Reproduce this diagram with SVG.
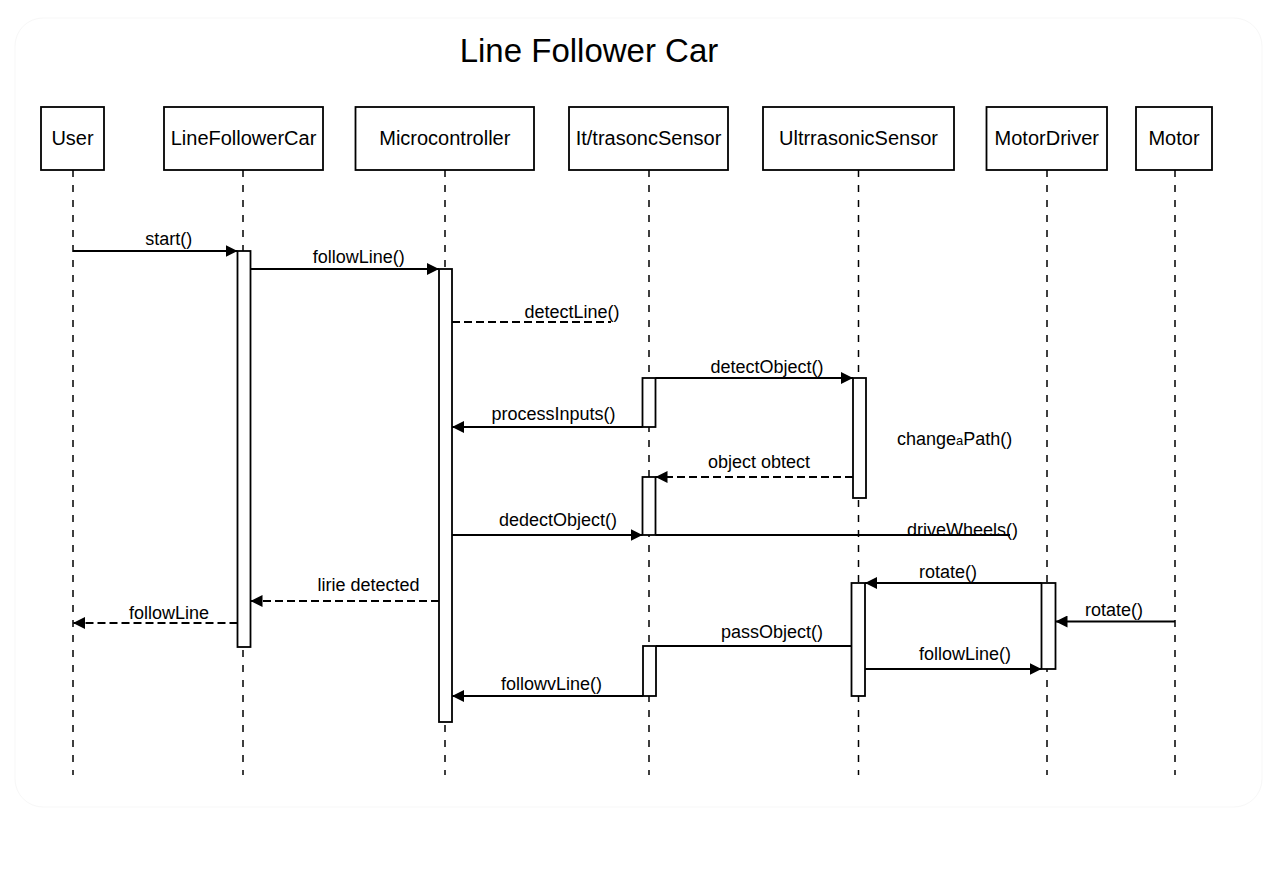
<svg xmlns="http://www.w3.org/2000/svg" width="1276" height="884" viewBox="0 0 1276 884">
<style>
text{font-family:"Liberation Sans",Arial,sans-serif;fill:#000}
.title{font-size:33px}
.hd{font-size:20px;text-anchor:middle}
.lb{font-size:18px;text-anchor:middle}
.box{fill:#fff;stroke:#000;stroke-width:1.8}
.life{stroke:#000;stroke-width:1.5;stroke-dasharray:7 8;fill:none}
.act{fill:#fff;stroke:#000;stroke-width:1.8}
.msg{stroke:#000;stroke-width:1.8;fill:none}
.dash{stroke-dasharray:8 4}
.arr{marker-end:url(#ah)}
</style>
<defs>
<marker id="ah" viewBox="0 0 12 12" refX="12" refY="6" markerWidth="12" markerHeight="12" markerUnits="userSpaceOnUse" orient="auto">
<path d="M0,0 L12,6 L0,12 Z" fill="#000"/>
</marker>
</defs>
<rect width="1276" height="884" fill="#fff"/>
<rect x="15" y="18" width="1247" height="789" rx="28" fill="none" stroke="#f7f7f7" stroke-width="1"/>
<text class="title" x="589" y="62" text-anchor="middle">Line Follower Car</text>

<g id="lifelines">
<line class="life" x1="73" y1="170" x2="73" y2="775"/>
<line class="life" x1="243" y1="170" x2="243" y2="775"/>
<line class="life" x1="445" y1="170" x2="445" y2="775"/>
<line class="life" x1="649" y1="170" x2="649" y2="775"/>
<line class="life" x1="858.5" y1="170" x2="858.5" y2="775"/>
<line class="life" x1="1047" y1="170" x2="1047" y2="775"/>
<line class="life" x1="1175" y1="170" x2="1175" y2="775"/>
</g>

<g id="user"><rect class="box" x="41" y="107" width="63" height="63"/><text class="hd" x="72.5" y="145">User</text></g>
<g id="linefollowercar"><rect class="box" x="164" y="107" width="159" height="63"/><text class="hd" x="243.5" y="145">LineFollowerCar</text></g>
<g id="microcontroller"><rect class="box" x="355.5" y="107" width="178.5" height="63"/><text class="hd" x="444.8" y="145">Microcontroller</text></g>
<g id="itrasoncsensor"><rect class="box" x="569" y="107" width="159" height="63"/><text class="hd" x="648.5" y="145">It/trasoncSensor</text></g>
<g id="ultrrasonicsensor"><rect class="box" x="763" y="107" width="191" height="63"/><text class="hd" x="858.5" y="145">UltrrasonicSensor</text></g>
<g id="motordriver"><rect class="box" x="986.5" y="107" width="120.5" height="63"/><text class="hd" x="1046.8" y="145">MotorDriver</text></g>
<g id="motor"><rect class="box" x="1136" y="107" width="76" height="63"/><text class="hd" x="1174" y="145">Motor</text></g>

<g id="activations">
<rect class="act" x="237.5" y="251" width="13" height="396"/>
<rect class="act" x="439" y="269" width="13" height="453"/>
<rect class="act" x="642.5" y="378" width="13" height="49"/>
<rect class="act" x="642.5" y="477" width="13" height="58"/>
<rect class="act" x="643" y="646" width="13" height="50"/>
<rect class="act" x="853" y="378" width="13" height="120"/>
<rect class="act" x="851.5" y="583" width="13.5" height="113"/>
<rect class="act" x="1041.5" y="583" width="14" height="86"/>
</g>

<g id="connectors">
<line class="msg arr" x1="73" y1="251" x2="237.5" y2="251"/>
<line class="msg arr" x1="250.5" y1="269" x2="439" y2="269"/>
<line class="msg dash" x1="452" y1="322" x2="611" y2="322"/>
<line class="msg arr" x1="655.5" y1="378" x2="853" y2="378"/>
<line class="msg arr" x1="642.5" y1="427" x2="452" y2="427"/>
<line class="msg dash arr" x1="853" y1="477" x2="655.5" y2="477"/>
<line class="msg arr" x1="452" y1="535" x2="642.5" y2="535"/>
<line class="msg" x1="655.5" y1="535" x2="1010" y2="535"/>
<line class="msg arr" x1="1041.5" y1="583" x2="865" y2="583"/>
<line class="msg dash arr" x1="439" y1="601" x2="250.5" y2="601"/>
<line class="msg arr" x1="1175" y1="621.5" x2="1055.5" y2="621.5"/>
<line class="msg dash arr" x1="237.5" y1="623" x2="73" y2="623"/>
<line class="msg" x1="656" y1="646" x2="851.5" y2="646"/>
<line class="msg arr" x1="865" y1="669" x2="1041.5" y2="669"/>
<line class="msg arr" x1="643" y1="696" x2="452" y2="696"/>
</g>

<g id="labels">
<text class="lb" x="168.7" y="245">start()</text>
<text class="lb" x="358.8" y="263">followLine()</text>
<text class="lb" x="572" y="318">detectLine()</text>
<text class="lb" x="767" y="373">detectObject()</text>
<text class="lb" x="553.5" y="420">processInputs()</text>
<text x="897" y="445" style="font-size:18px">change<tspan style="font-size:13px">a</tspan>Path()</text>
<text class="lb" x="759" y="468">object obtect</text>
<text class="lb" x="558" y="526">dedectObject()</text>
<text class="lb" x="962.5" y="536">driveWheels()</text>
<text class="lb" x="948" y="578">rotate()</text>
<text class="lb" x="368.5" y="591">lirie detected</text>
<text class="lb" x="1114" y="616">rotate()</text>
<text class="lb" x="169" y="619">followLine</text>
<text class="lb" x="772" y="638">passObject()</text>
<text class="lb" x="965" y="660">followLine()</text>
<text class="lb" x="551.5" y="690">followvLine()</text>
</g>
</svg>
